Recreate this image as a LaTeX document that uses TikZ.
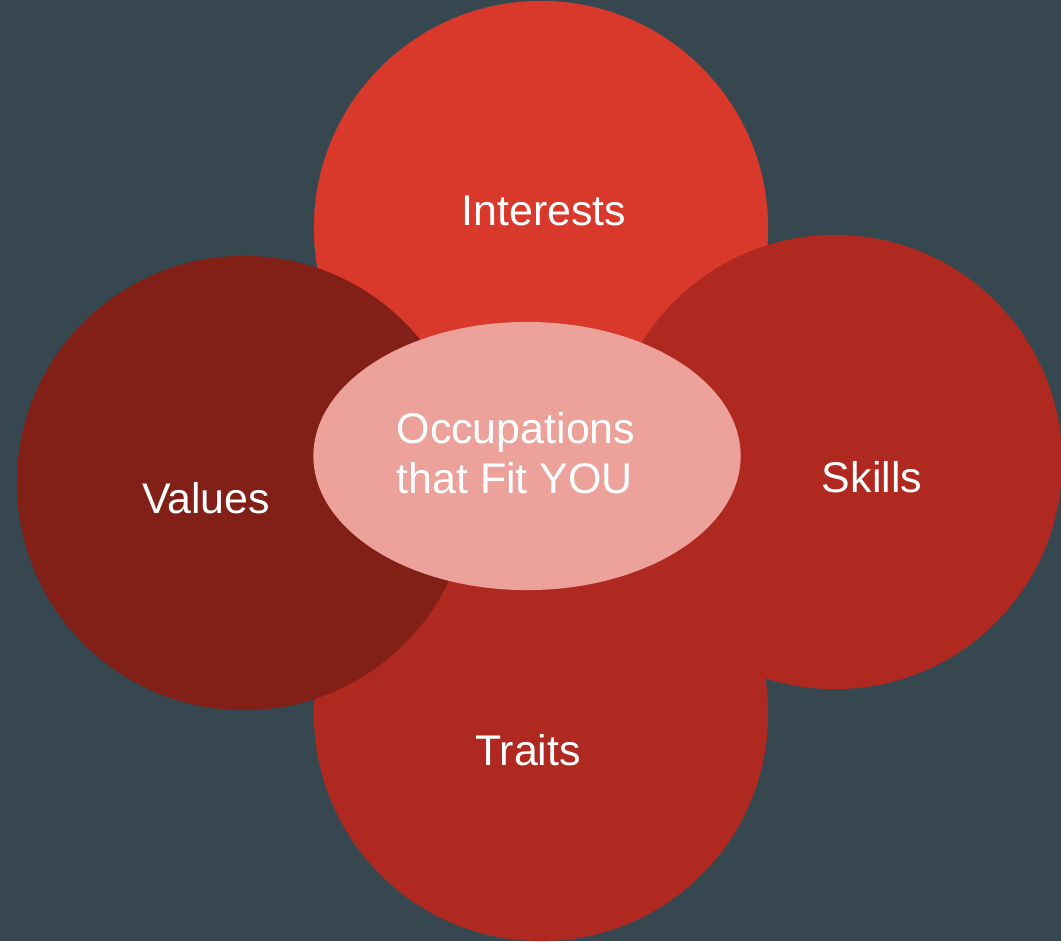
\documentclass[tikz,border=0pt]{standalone}
\usepackage{fontspec}
\setmainfont{Liberation Sans}
\usepackage{xcolor}
\definecolor{slate}{RGB}{55,71,79}
\definecolor{redlight}{RGB}{217,57,43}
\definecolor{redmid}{RGB}{176,41,32}
\definecolor{reddark}{RGB}{130,31,23}
\definecolor{pinkcore}{RGB}{236,162,155}
\usetikzlibrary{shapes.geometric}

\begin{document}
\begin{tikzpicture}[x=0.01cm,y=-0.01cm]
	\tikzstyle{blob}=[circle,minimum size=4.54cm,inner sep=0pt];
	\tikzstyle{word}=[text=white,font=\fontsize{12.2}{14.2}\selectfont,inner sep=0pt,anchor=base];
	\fill[slate] (0,0) rectangle (1061,941);
	\useasboundingbox (0,0) rectangle (1061,941);
	\clip (0,0) rectangle (1061,941);
	\node[blob,fill=redlight] (interests) at (541,228) {};
	\node[blob,fill=redmid]   (traits)    at (541,714) {};
	\node[blob,fill=redmid]   (skills)    at (835,462) {};
	\node[blob,fill=reddark]  (values)    at (244,483) {};
	\node[ellipse,fill=pinkcore,minimum width=4.27cm,minimum height=2.68cm,inner sep=0pt] (core) at (527,456) {};
	\node[word] (t-interests) at (544,225) {Interests};
	\node[word] (t-skills)    at (872,492) {Skills};
	\node[word] (t-values)    at (206,513) {Values};
	\node[word] (t-traits)    at (528,765) {Traits};
	\node[word,align=left,anchor=base west] (t-core) at (396,493) {Occupations\\that Fit YOU};
\end{tikzpicture}
\end{document}
